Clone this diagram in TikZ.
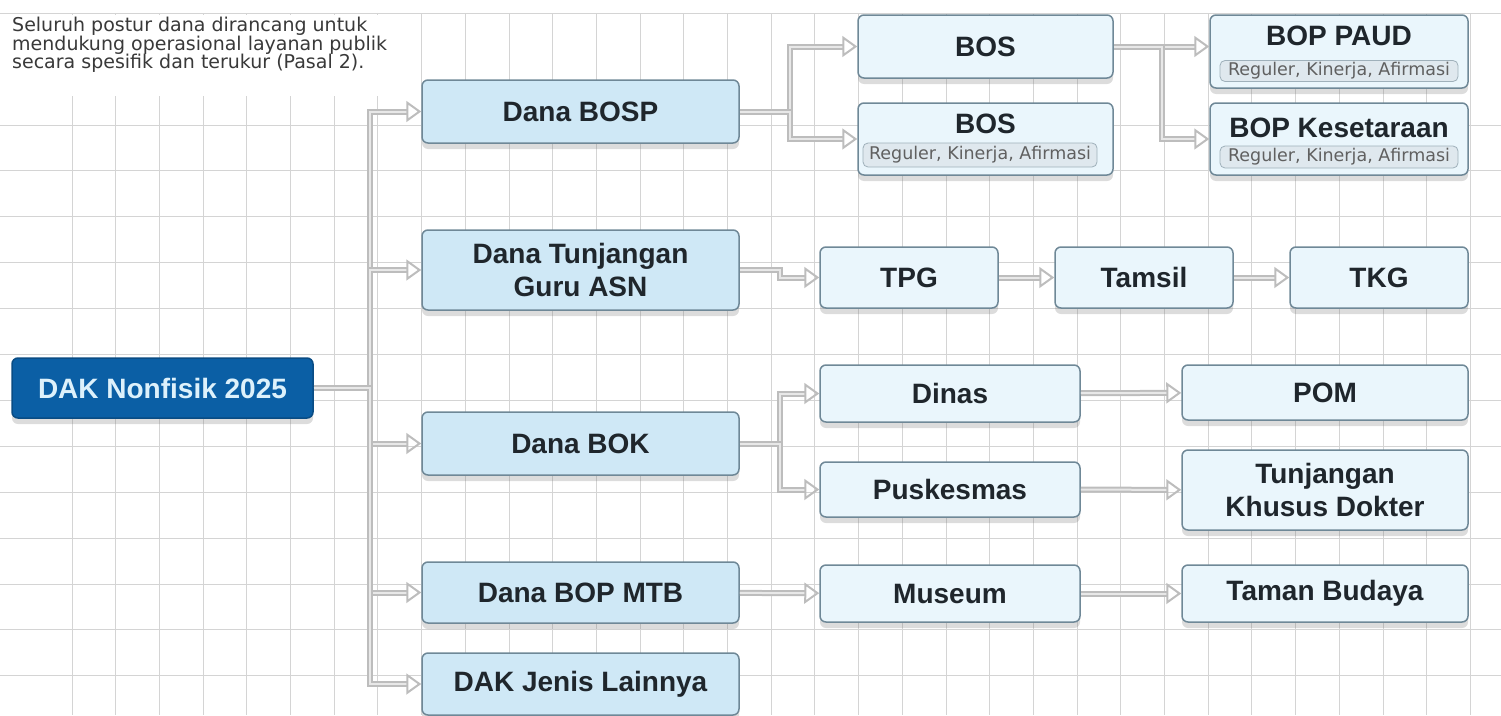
\documentclass[tikz,border=0pt]{standalone}
\usepackage{fontspec}
\setmainfont{Liberation Sans}
\newfontfamily\notefont{DejaVu Sans}
\usetikzlibrary{arrows.meta,shadows}

\definecolor{dakblue}{HTML}{0B5FA5}
\definecolor{daktext}{HTML}{DDF1FB}
\definecolor{midfill}{HTML}{CFE8F6}
\definecolor{leaffill}{HTML}{EAF6FC}
\definecolor{boxline}{HTML}{6F8897}
\definecolor{pillfill}{HTML}{DFE8EE}
\definecolor{pillline}{HTML}{9FB0BA}
\definecolor{gridgray}{HTML}{D4D4D4}
\definecolor{arrgray}{HTML}{BDBDBD}
\definecolor{arrinner}{HTML}{E8E8E8}
\definecolor{inkgray}{HTML}{1F262C}

\begin{document}
\begin{tikzpicture}[x=1pt,y=-1pt,
    box/.style={draw=boxline, line width=1.5pt, rounded corners=6pt, align=center, text=inkgray,
      font=\fontsize{28}{33}\selectfont\bfseries,
      drop shadow={shadow xshift=0pt, shadow yshift=-6pt, opacity=0.28}},
    rootbox/.style={box, fill=dakblue, draw=dakblue!80!black, text=daktext},
    midbox/.style={box, fill=midfill, minimum width=317pt},
    leafbox/.style={box, fill=leaffill},
    title/.style={font=\fontsize{28}{33}\selectfont\bfseries, text=inkgray, inner sep=0pt},
    pill/.style={draw=pillline, fill=pillfill, rounded corners=5pt, line width=0.8pt,
      text=gray!75!black, font=\notefont\fontsize{17.5}{18}\selectfont, inner sep=0pt},
    arr/.style={draw=arrgray, double=arrinner, double distance=2pt, line width=2pt,
      -{Triangle[open, length=15pt, width=21pt]}},
  ]
  \useasboundingbox (0,0) rectangle (1501,715);

  % grid
  \foreach \gx in {0,...,32}
    \draw[gridgray, line width=1pt] ({72+43.7*\gx},13) -- ({72+43.7*\gx},715);
  \draw[gridgray, line width=1pt] (0,13) -- (1501,13);
  \foreach \gy in {0,...,12}
    \draw[gridgray, line width=1pt] (0,{125+45.9*\gy}) -- (1501,{125+45.9*\gy});

  \fill[white] (0,15) rectangle (398,96);
  \node[anchor=north west, align=left, inner sep=0pt, text=gray!45!black,
    font=\notefont\fontsize{19}{18.5}\selectfont] (note) at (12,17)
    {Seluruh postur dana dirancang untuk\\mendukung operasional layanan publik\\secara spesifik dan terukur (Pasal 2).};

  \node[rootbox, minimum width=301pt, minimum height=60pt] (dak) at (162.5,388) {DAK Nonfisik 2025};

  \node[midbox, minimum height=63pt] (bosp) at (580.5,111.5) {Dana BOSP};
  \node[midbox, minimum height=80pt] (tunj) at (580.5,270) {Dana Tunjangan\\Guru ASN};
  \node[midbox, minimum height=63pt] (bok) at (580.5,443.5) {Dana BOK};
  \node[midbox, minimum height=61pt] (mtb) at (580.5,592.5) {Dana BOP MTB};
  \node[midbox, minimum height=62pt] (lain) at (580.5,684) {DAK Jenis Lainnya};

  \node[leafbox, minimum width=255pt, minimum height=63pt] (bosa) at (985.5,46.5) {BOS};
  \node[leafbox, minimum width=255pt, minimum height=72pt] (bosb) at (985.5,139) {};
  \node[title] (bosbt) at (985.5,123.5) {BOS};
  \node[pill, minimum width=234pt, minimum height=24pt] (bosbp) at (980,155) {Reguler, Kinerja, Afirmasi};

  \node[leafbox, minimum width=258pt, minimum height=73pt] (paud) at (1339,51.5) {};
  \node[title] (paudt) at (1339,36) {BOP PAUD};
  \node[pill, minimum width=238pt, minimum height=21pt] (paudp) at (1339,71) {Reguler, Kinerja, Afirmasi};

  \node[leafbox, minimum width=258pt, minimum height=72pt] (kes) at (1339,139) {};
  \node[title] (kest) at (1339,127.5) {BOP Kesetaraan};
  \node[pill, minimum width=238pt, minimum height=22pt] (kesp) at (1339,157) {Reguler, Kinerja, Afirmasi};

  \node[leafbox, minimum width=178pt, minimum height=61pt] (tpg) at (909,277.5) {TPG};
  \node[leafbox, minimum width=178pt, minimum height=61pt] (tamsil) at (1144,277.5) {Tamsil};
  \node[leafbox, minimum width=178pt, minimum height=61pt] (tkg) at (1379,277.5) {TKG};

  \node[leafbox, minimum width=260pt, minimum height=57pt] (dinas) at (950,393.5) {Dinas};
  \node[leafbox, minimum width=260pt, minimum height=55pt] (pusk) at (950,489.5) {Puskesmas};
  \node[leafbox, minimum width=286pt, minimum height=55pt] (pom) at (1325,392.5) {POM};
  \node[leafbox, minimum width=286pt, minimum height=80pt] (tkd) at (1325,490) {Tunjangan\\Khusus Dokter};

  \node[leafbox, minimum width=260pt, minimum height=57pt] (museum) at (950,593.5) {Museum};
  \node[leafbox, minimum width=286pt, minimum height=57pt] (budaya) at (1325,593.5) {Taman Budaya};

  \coordinate (hub) at (370,388);
  \foreach \t in {bosp,tunj,bok,mtb,lain}
    \draw[arr] (dak.east) -- (hub) |- (\t.west);

  \coordinate (bospfork) at (790,111.5);
  \draw[arr] (bosp.east) -- (bospfork) |- (bosa.west);
  \draw[arr] (bosp.east) -- (bospfork) |- (bosb.west);

  \coordinate (bosfork) at (1162,46.5);
  \draw[arr] (bosa.east) -- (paud.west |- bosa.east);
  \draw[arr] (bosa.east) -- (bosfork) |- (kes.west);

  \draw[arr] (tunj.east) -- ++(40,0) |- (tpg.west);
  \draw[arr] (tpg) -- (tamsil);
  \draw[arr] (tamsil) -- (tkg);

  \coordinate (bokfork) at (780,443.5);
  \draw[arr] (bok.east) -- (bokfork) |- (dinas.west);
  \draw[arr] (bok.east) -- (bokfork) |- (pusk.west);
  \draw[arr] (dinas) -- (pom);
  \draw[arr] (pusk) -- (tkd);

  \draw[arr] (mtb) -- (museum);
  \draw[arr] (museum) -- (budaya);
\end{tikzpicture}
\end{document}
